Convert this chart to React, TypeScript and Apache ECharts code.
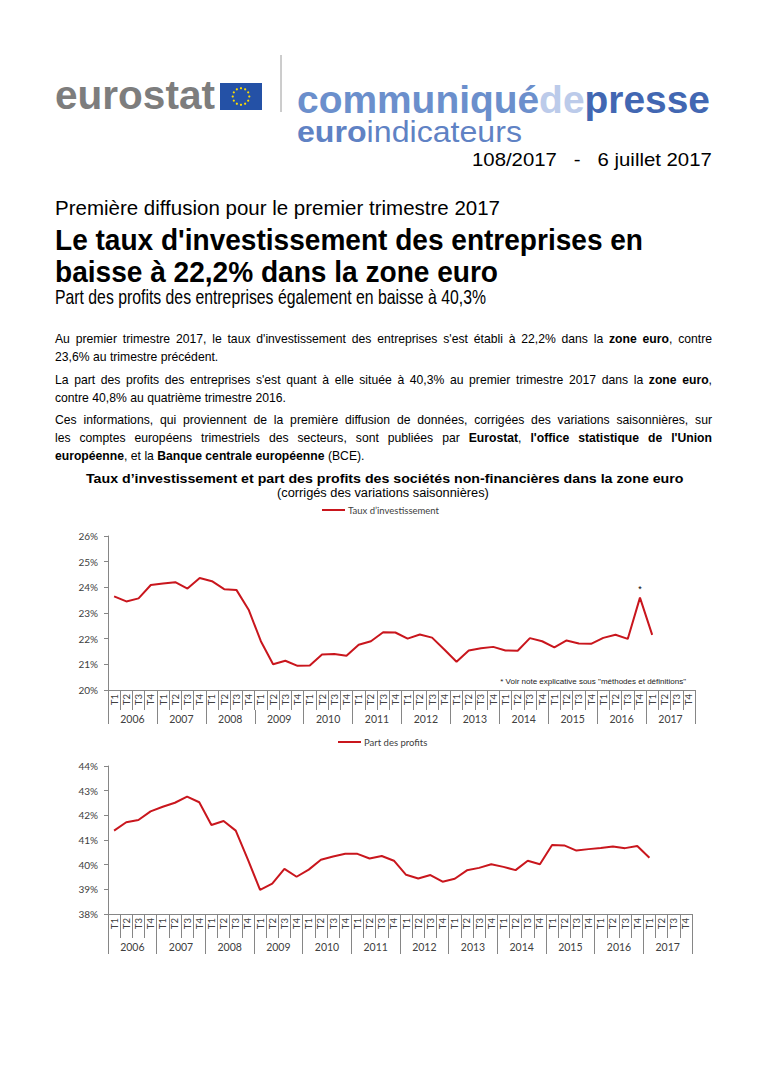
import React, { useEffect, useRef } from 'react';
import * as echarts from 'echarts';

const years = ['2006', '2007', '2008', '2009', '2010', '2011', '2012', '2013', '2014', '2015', '2016', '2017'];
const quarters = ['T1', 'T2', 'T3', 'T4'];
const quarterLabels = years.flatMap(() => quarters);

const investRate = [
  23.65, 23.45, 23.57, 24.09,
  24.15, 24.2, 23.95, 24.36,
  24.24, 23.93, 23.9, 23.13,
  21.9, 21.0, 21.14, 20.94,
  20.95, 21.38, 21.4, 21.33,
  21.76, 21.9, 22.25, 22.24,
  22.0, 22.16, 22.04, 21.58,
  21.1, 21.54, 21.63, 21.68,
  21.54, 21.53, 22.02, 21.9,
  21.66, 21.93, 21.81, 21.8,
  22.03, 22.15, 21.99, 23.6,
  22.15, null, null, null,
];

const profitShare = [
  41.38, 41.72, 41.81, 42.16,
  42.35, 42.51, 42.76, 42.53,
  41.61, 41.77, 41.38, 40.2,
  38.98, 39.23, 39.83, 39.51,
  39.8, 40.2, 40.33, 40.44,
  40.44, 40.25, 40.35, 40.16,
  39.59, 39.44, 39.58, 39.31,
  39.43, 39.77, 39.87, 40.02,
  39.91, 39.78, 40.16, 40.02,
  40.8, 40.78, 40.57, 40.63,
  40.68, 40.74, 40.67, 40.76,
  40.28, null, null, null,
];

const investTicks = [20, 26, 1];
const profitTicks = [38, 44, 1];
const noteIndex = 43;

const FONT = '"Liberation Sans", Arial, sans-serif';
const CHART_FONT = 'Lato, "Noto Sans", sans-serif';
const RED = '#c9161d';
const AXIS = '#868686';
const LABEL = '#404040';

let mctx: CanvasRenderingContext2D | null = null;
function measure(t: string, font: string): number {
  if (!mctx) mctx = document.createElement('canvas').getContext('2d');
  mctx!.font = font;
  return mctx!.measureText(t).width;
}

type Seg = { t: string; b?: boolean; c?: string };
type LineOpts = {
  x: number; y: number; size: number; color?: string; width?: number; scale?: number;
  align?: 'left' | 'right' | 'center'; justify?: boolean;
};

function fontOf(size: number, b?: boolean) {
  return `${b ? 'bold ' : ''}${size}px ${FONT}`;
}

function splitWords(segs: Seg[]): Seg[][] {
  const words: Seg[][] = [];
  let nw = true;
  segs.forEach((s) => {
    s.t.split(' ').forEach((p, i) => {
      if (i > 0) nw = true;
      if (!p) return;
      if (nw || !words.length) { words.push([]); nw = false; }
      words[words.length - 1].push({ t: p, b: s.b, c: s.c });
    });
  });
  return words;
}

function naturalWidth(segs: Seg[], size: number) {
  const words = splitWords(segs);
  const sum = words.reduce((a, w) => a + w.reduce((b, p) => b + measure(p.t, fontOf(size, p.b)), 0), 0);
  return sum + measure(' ', fontOf(size)) * (words.length - 1);
}

function lineEls(segs: Seg[], o: LineOpts): any[] {
  const words = splitWords(segs);
  const wW = words.map((w) => w.reduce((a, p) => a + measure(p.t, fontOf(o.size, p.b)), 0));
  const sumW = wW.reduce((a, b) => a + b, 0);
  const sp = measure(' ', fontOf(o.size));
  const natural = sumW + sp * (words.length - 1);
  const scale = o.scale ?? (o.width ? o.width / natural : 1);
  let gap = sp * scale;
  if (o.justify && o.width && words.length > 1) gap = (o.width - sumW * scale) / (words.length - 1);
  const total = sumW * scale + gap * (words.length - 1);
  let x = o.align === 'right' ? o.x - total : o.align === 'center' ? o.x - total / 2 : o.x;
  const els: any[] = [];
  words.forEach((w) => {
    w.forEach((p) => {
      const f = fontOf(o.size, p.b);
      els.push({
        type: 'text', x, y: o.y, scaleX: scale, silent: true,
        style: { text: p.t, font: f, fill: p.c ?? o.color ?? '#000', textAlign: 'left', textVerticalAlign: 'middle', align: 'left', verticalAlign: 'middle' },
      });
      x += measure(p.t, f) * scale;
    });
    x += gap;
  });
  return els;
}

function single(text: string, o: { x: number; y: number; size: number; b?: boolean; color?: string; width: number; align: 'left' | 'right' | 'center' }) {
  const f = fontOf(o.size, o.b);
  const scale = o.width / measure(text, f);
  const total = o.width;
  const x = o.align === 'right' ? o.x - total : o.align === 'center' ? o.x - total / 2 : o.x;
  return {
    type: 'text', x, y: o.y, scaleX: scale, silent: true,
    style: { text, font: f, fill: o.color ?? '#000', textAlign: 'left', textVerticalAlign: 'middle', align: 'left', verticalAlign: 'middle' },
  };
}

const para: { segs: Seg[]; y: number; justify: boolean; end?: number }[] = [
  { y: 339, justify: true, segs: [{ t: "Au premier trimestre 2017, le taux d'investissement des entreprises s'est établi à 22,2% dans la " }, { t: 'zone euro', b: true }, { t: ', contre' }] },
  { y: 357, justify: false, end: 199, segs: [{ t: '23,6% au trimestre précédent.' }] },
  { y: 380, justify: true, segs: [{ t: "La part des profits des entreprises s'est quant à elle située à 40,3% au premier trimestre 2017 dans la " }, { t: 'zone euro', b: true }, { t: ',' }] },
  { y: 398, justify: false, end: 286, segs: [{ t: 'contre 40,8% au quatrième trimestre 2016.' }] },
  { y: 420, justify: true, segs: [{ t: 'Ces informations, qui proviennent de la première diffusion de données, corrigées des variations saisonnières, sur' }] },
  { y: 438, justify: true, segs: [{ t: 'les comptes européens trimestriels des secteurs, sont publiées par ' }, { t: 'Eurostat', b: true }, { t: ', ' }, { t: "l'office statistique de l'Union", b: true }] },
  { y: 456, justify: false, end: 354, segs: [{ t: 'européenne', b: true }, { t: ', et la ' }, { t: 'Banque centrale européenne', b: true }, { t: ' (BCE).' }] },
];

function buildGraphics(): any[] {
  const g: any[] = [];
  // header
  g.push(...lineEls([{ t: 'eurostat', b: true }], { x: 55, y: 96, size: 40, color: '#7d7d7d', width: 160 }));
  g.push({ type: 'rect', shape: { x: 220, y: 83, width: 42, height: 27 }, style: { fill: '#2451a6' }, silent: true });
  for (let i = 0; i < 12; i++) {
    const a = (i / 12) * Math.PI * 2;
    g.push({ type: 'circle', shape: { cx: 241 + 8.3 * Math.cos(a), cy: 96.5 + 8.3 * Math.sin(a), r: 1.1 }, style: { fill: '#ffdd00' }, silent: true });
  }
  g.push({ type: 'line', shape: { x1: 281, y1: 55, x2: 281, y2: 112 }, style: { stroke: '#9a9a9a', lineWidth: 1 }, silent: true });
  g.push(...lineEls([{ t: 'communiqué', b: true, c: '#6b8fcc' }, { t: 'de', b: true, c: '#bccbea' }, { t: 'presse', b: true, c: '#4267b2' }], { x: 297, y: 99, size: 39, width: 413 }));
  g.push(...lineEls([{ t: 'euro', b: true }, { t: 'indicateurs' }], { x: 297, y: 132, size: 30, color: '#5f82c4', width: 225 }));
  g.push(single('108/2017   -   6 juillet 2017', { x: 712, y: 160, size: 17.5, width: 240, align: 'right' }));

  g.push(...lineEls([{ t: 'Première diffusion pour le premier trimestre 2017' }], { x: 55, y: 208, size: 19.5, width: 445 }));
  g.push(...lineEls([{ t: "Le taux d'investissement des entreprises en", b: true }], { x: 55, y: 239.5, size: 30, width: 588 }));
  g.push(...lineEls([{ t: 'baisse à 22,2% dans la zone euro', b: true }], { x: 55, y: 271.5, size: 30, width: 443 }));
  g.push(...lineEls([{ t: 'Part des profits des entreprises également en baisse à 40,3%' }], { x: 55, y: 297, size: 21, width: 431 }));

  const pSize = 12.5;
  const refLine = para[3];
  const pScale = (refLine.end! - 55) / naturalWidth(refLine.segs, pSize);
  para.forEach((l) => {
    if (l.justify) g.push(...lineEls(l.segs, { x: 55, y: l.y, size: pSize, scale: pScale, width: 657, justify: true }));
    else g.push(...lineEls(l.segs, { x: 55, y: l.y, size: pSize, scale: pScale }));
  });

  g.push(single('Taux d’investissement et part des profits des sociétés non-financières dans la zone euro', { x: 385, y: 478, size: 13.5, b: true, width: 598, align: 'center' }));
  g.push(single('(corrigés des variations saisonnières)', { x: 383, y: 493, size: 12.5, width: 212, align: 'center' }));
  g.push({
    type: 'text', x: 686, y: 681, silent: true,
    style: { text: '* Voir note explicative sous "méthodes et définitions"', font: `8px ${FONT}`, fill: '#222', textAlign: 'right', textVerticalAlign: 'middle', align: 'right', verticalAlign: 'middle' },
  });
  return g;
}

function xAxes(gridIndex: number, tickLen: number, yearTick: number) {
  return [
    {
      type: 'category', gridIndex, data: quarterLabels, boundaryGap: true,
      axisLine: { show: true, lineStyle: { color: AXIS, width: 1 } },
      axisTick: { show: true, interval: 0, length: tickLen, lineStyle: { color: AXIS } },
      axisLabel: { interval: 0, rotate: 90, fontSize: 9.5, color: LABEL, margin: 4, fontFamily: CHART_FONT },
    },
    {
      type: 'category', gridIndex, data: years, position: 'bottom', offset: tickLen, boundaryGap: true,
      axisLine: { show: false },
      axisTick: { show: true, interval: 0, length: yearTick, lineStyle: { color: AXIS } },
      axisLabel: { interval: 0, fontSize: 10.5, color: LABEL, margin: 3, fontFamily: CHART_FONT },
    },
  ];
}

function yAxis(gridIndex: number, t: number[]) {
  return {
    type: 'value', gridIndex, min: t[0], max: t[1], interval: t[2],
    axisLine: { show: true, lineStyle: { color: AXIS } },
    axisTick: { show: true, length: 4, lineStyle: { color: AXIS } },
    splitLine: { show: false },
    axisLabel: { formatter: '{value}%', fontSize: 10, color: LABEL, margin: 10, fontFamily: CHART_FONT },
  };
}

export default function App() {
  const ref = useRef<HTMLDivElement>(null);
  useEffect(() => {
    if (!ref.current) return;
    const chart = echarts.init(ref.current, undefined, { renderer: 'svg' });
    const legendText = { fontSize: 9.5, color: LABEL, fontFamily: CHART_FONT, padding: [0, 0, 0, -2] };
    chart.setOption({
      animation: false,
      backgroundColor: '#fff',
      grid: [
        { left: 108, top: 536, width: 587, height: 154 },
        { left: 108, top: 766, width: 584, height: 148 },
      ],
      legend: [
        { data: ['Taux d’investissement'], left: 322, top: 505, icon: 'rect', itemWidth: 23, itemHeight: 2, padding: 0, textStyle: legendText },
        { data: ['Part des profits'], left: 338, top: 737, icon: 'rect', itemWidth: 23, itemHeight: 2, padding: 0, textStyle: legendText },
      ],
      xAxis: [...xAxes(0, 20, 14), ...xAxes(1, 24, 16)],
      yAxis: [yAxis(0, investTicks), yAxis(1, profitTicks)],
      series: [
        {
          type: 'line', name: 'Taux d’investissement', xAxisIndex: 0, yAxisIndex: 0,
          symbol: 'none', lineStyle: { color: RED, width: 2 }, itemStyle: { color: RED },
          data: investRate.map((v, i) => (i === noteIndex
            ? { value: v, symbol: 'circle', symbolSize: 0.01, label: { show: true, position: 'top', formatter: '*', fontSize: 9, color: '#000', distance: 4 } }
            : v)),
        },
        {
          type: 'line', name: 'Part des profits', xAxisIndex: 2, yAxisIndex: 1,
          symbol: 'none', lineStyle: { color: RED, width: 2 }, itemStyle: { color: RED },
          data: profitShare,
        },
      ],
      graphic: buildGraphics(),
    });
    return () => chart.dispose();
  }, []);
  return <div ref={ref} style={{ position: 'absolute', left: 0, top: 0, width: 768, height: 1087, background: '#fff' }} />;
}
